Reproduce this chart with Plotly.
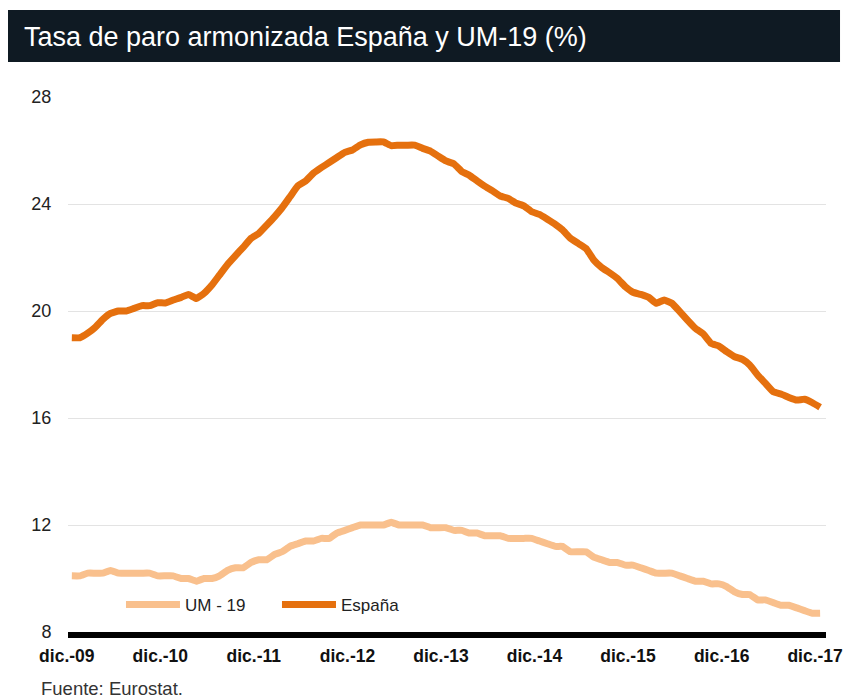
import pandas as pd
import plotly.graph_objects as go

# Monthly data, Dec-2009 .. Dec-2017
months = pd.date_range("2009-12-01", "2017-12-01", freq="MS")

espana = [
    19.0, 19.0, 19.17, 19.38, 19.69, 19.91, 20.0, 20.0, 20.1, 20.2,
    20.2, 20.31, 20.3, 20.41, 20.51, 20.62, 20.47, 20.66, 20.97, 21.35,
    21.74, 22.07, 22.38, 22.72, 22.9, 23.21, 23.53, 23.86, 24.27, 24.67,
    24.86, 25.15, 25.36, 25.55, 25.74, 25.93, 26.02, 26.21, 26.31, 26.32,
    26.32, 26.18, 26.2, 26.2, 26.2, 26.08, 25.98, 25.79, 25.61, 25.5,
    25.21, 25.08, 24.87, 24.67, 24.49, 24.3, 24.21, 24.03, 23.93, 23.71,
    23.61, 23.43, 23.24, 23.03, 22.72, 22.53, 22.34, 21.91, 21.63, 21.43,
    21.22, 20.91, 20.7, 20.62, 20.51, 20.29, 20.41, 20.29, 19.98, 19.66,
    19.35, 19.14, 18.79, 18.69, 18.48, 18.29, 18.19, 17.98, 17.61, 17.3,
    16.98, 16.9, 16.77, 16.67, 16.7, 16.57, 16.4,
]

um19 = [
    10.1, 10.1, 10.2, 10.2, 10.2, 10.3, 10.2, 10.2, 10.2, 10.2,
    10.2, 10.1, 10.1, 10.1, 10.0, 10.0, 9.9, 10.0, 10.0, 10.1,
    10.3, 10.4, 10.4, 10.6, 10.7, 10.7, 10.9, 11.0, 11.2, 11.3,
    11.4, 11.4, 11.5, 11.5, 11.7, 11.8, 11.9, 12.0, 12.0, 12.0,
    12.0, 12.1, 12.0, 12.0, 12.0, 12.0, 11.9, 11.9, 11.9, 11.8,
    11.8, 11.7, 11.7, 11.6, 11.6, 11.6, 11.5, 11.5, 11.5, 11.5,
    11.4, 11.3, 11.2, 11.2, 11.0, 11.0, 11.0, 10.8, 10.7, 10.6,
    10.6, 10.5, 10.5, 10.4, 10.3, 10.2, 10.2, 10.2, 10.1, 10.0,
    9.9, 9.9, 9.8, 9.8, 9.7, 9.5, 9.4, 9.4, 9.2, 9.2,
    9.1, 9.0, 9.0, 8.9, 8.8, 8.7, 8.7,
]

tick_dates = ["2009-12-01", "2010-12-01", "2011-12-01", "2012-12-01", "2013-12-01",
              "2014-12-01", "2015-12-01", "2016-12-01", "2017-12-01"]
tick_labels = ["dic.-09", "dic.-10", "dic.-11", "dic.-12", "dic.-13",
               "dic.-14", "dic.-15", "dic.-16", "dic.-17"]
y_ticks = [8, 12, 16, 20, 24, 28]

FONT = "Liberation Sans, Arial, sans-serif"

fig = go.Figure()
fig.add_trace(go.Scatter(
    x=months, y=um19, mode="lines", name="UM - 19", legend="legend",
    line=dict(color="#F9C08D", width=7, shape="spline", smoothing=0.3),
))
fig.add_trace(go.Scatter(
    x=months, y=espana, mode="lines", name="España", legend="legend2",
    line=dict(color="#E5700E", width=7, shape="spline", smoothing=0.3),
))

legend_common = dict(
    orientation="h", yanchor="middle", xanchor="left",
    font=dict(size=17, color="#222222", family=FONT),
    bgcolor="rgba(0,0,0,0)", itemwidth=54,
)

fig.update_layout(
    width=843, height=690,
    margin=dict(l=60, r=25, t=89, b=66, autoexpand=False),
    paper_bgcolor="white", plot_bgcolor="white",
    font=dict(family=FONT, color="#222222", size=16),
    showlegend=True,
    legend=dict(x=0.0699, y=0.0505, **legend_common),
    legend2=dict(x=0.2757, y=0.0505, **legend_common),
    xaxis=dict(
        range=["2009-11-16", "2017-12-24"],
        tickvals=tick_dates, ticktext=tick_labels,
        tickfont=dict(size=17.5, color="#111111", family=FONT, weight="bold"),
        showgrid=False, zeroline=False, automargin=False,
        ticklabeloverflow="allow", ticklabelshift=-5,
        showline=True, linecolor="black", linewidth=6,
        ticks="outside", ticklen=3, tickcolor="rgba(0,0,0,0)",
    ),
    yaxis=dict(
        range=[8, 28], tickvals=y_ticks,
        tickfont=dict(size=18, color="#222222"),
        showgrid=True, gridcolor="#E3E3E3", gridwidth=1,
        zeroline=False, showline=False, automargin=False,
        ticks="outside", ticklen=12, tickcolor="rgba(0,0,0,0)",
    ),
    shapes=[dict(
        type="rect", xref="paper", yref="paper",
        x0=-0.0792, x1=1.0185, y0=1.0654, y1=1.1626,
        fillcolor="#0F1A23", line=dict(width=0), layer="above",
    )],
    annotations=[
        dict(
            text="Tasa de paro armonizada España y UM-19 (%)",
            xref="paper", yref="paper", x=-0.0607, y=1.112,
            xanchor="left", yanchor="middle", showarrow=False,
            font=dict(size=27, color="white", family=FONT),
        ),
        dict(
            text="Fuente: Eurostat.",
            xref="paper", yref="paper", x=-0.0387, y=-0.1047,
            xanchor="left", yanchor="middle", showarrow=False,
            font=dict(size=18.5, color="#333333", family=FONT),
        ),
    ],
)

fig.write_html("out.html")
